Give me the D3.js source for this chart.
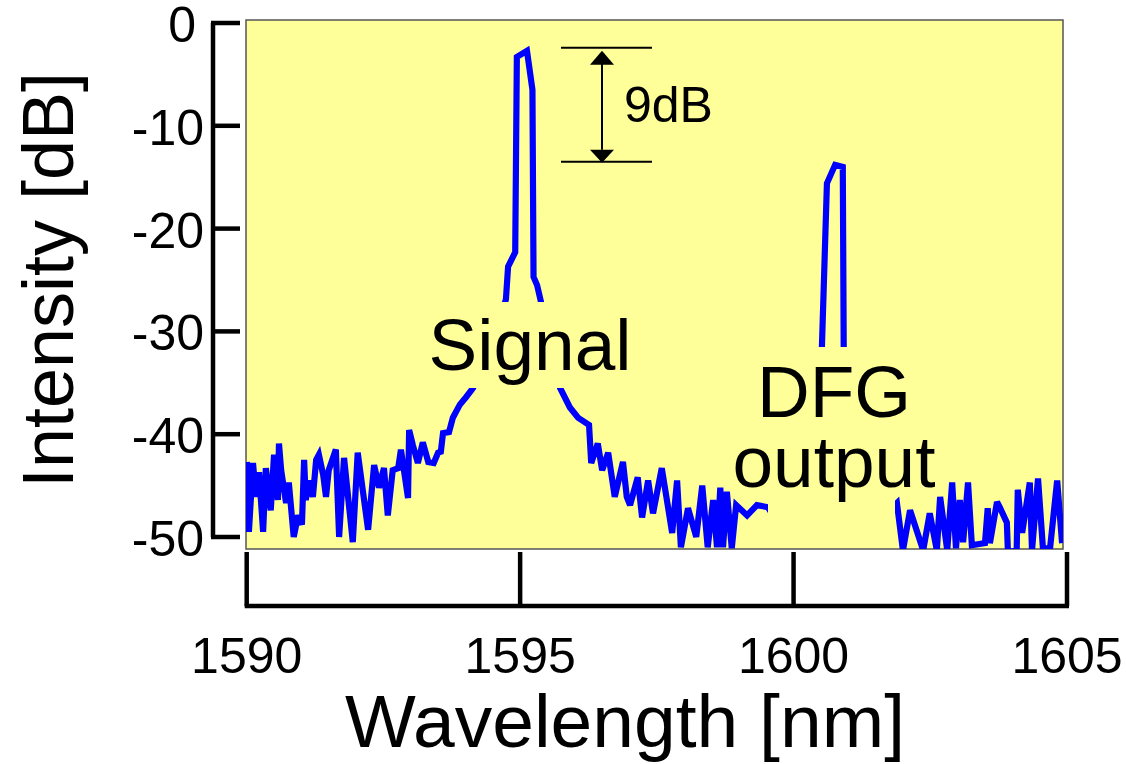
<!DOCTYPE html>
<html><head><meta charset="utf-8">
<script src="https://cdn.jsdelivr.net/npm/d3@7"></script>
<style>body{margin:0;background:#fff}svg{display:block}text{font-family:"Liberation Sans",Arial,sans-serif;fill:#000}</style>
</head><body>
<svg id="c" width="1126" height="764"></svg>
<script>
const wavelength = [1590.005,1590.04,1590.115,1590.17,1590.225,1590.30,1590.35,1590.44,1590.50,1590.57,1590.59,1590.63,1590.72,1590.77,1590.86,1590.94,1591.01,1591.05,1591.08,1591.14,1591.21,1591.27,1591.32,1591.40,1591.45,1591.50,1591.63,1591.69,1591.78,1591.94,1592.03,1592.22,1592.33,1592.42,1592.51,1592.58,1592.67,1592.77,1592.82,1592.95,1592.97,1593.04,1593.13,1593.22,1593.32,1593.42,1593.50,1593.55,1593.59,1593.70,1593.77,1593.90,1594.01,1594.14,1594.45,1594.74,1594.78,1594.91,1594.94,1595.125,1595.225,1595.245,1595.31,1595.38,1595.55,1595.73,1595.91,1596.06,1596.26,1596.30,1596.42,1596.50,1596.61,1596.73,1596.88,1596.95,1597.01,1597.15,1597.23,1597.34,1597.43,1597.59,1597.78,1597.87,1597.94,1598.07,1598.22,1598.33,1598.43,1598.53,1598.60,1598.66,1598.71,1598.78,1598.87,1598.95,1599.15,1599.33,1599.53,1599.93,1600.39,1600.50,1600.61,1600.76,1600.90,1600.92,1601.22,1601.58,1601.89,1602.00,1602.13,1602.37,1602.49,1602.62,1602.68,1602.81,1602.90,1602.97,1603.04,1603.10,1603.19,1603.26,1603.50,1603.55,1603.59,1603.72,1603.77,1603.90,1603.92,1604.08,1604.10,1604.18,1604.32,1604.36,1604.47,1604.56,1604.69,1604.82,1604.91];
const intensity = [-42.7,-49.5,-42.8,-46.1,-43.7,-49.5,-43.3,-47.4,-42.0,-46.4,-40.9,-43.5,-46.7,-44.7,-50.0,-47.9,-48.8,-42.5,-46.4,-44.5,-46.1,-42.5,-42.0,-44.0,-46.1,-43.5,-41.5,-50.0,-42.3,-50.5,-41.8,-49.3,-43.0,-45.2,-43.3,-47.9,-43.5,-43.3,-41.5,-46.2,-39.6,-41.1,-42.8,-40.8,-42.7,-42.8,-41.8,-41.7,-39.9,-39.8,-38.4,-37.1,-36.4,-35.5,-31.8,-26.9,-23.7,-22.3,-3.3,-2.7,-6.5,-24.7,-25.5,-27.1,-31.3,-35.5,-37.4,-38.4,-39.1,-42.8,-40.9,-43.5,-41.8,-46.1,-42.7,-46.1,-46.9,-44.2,-48.1,-44.5,-47.7,-43.3,-49.6,-44.5,-51.0,-47.2,-50.0,-45.0,-51.0,-46.4,-51.0,-45.2,-51.0,-45.6,-51.1,-46.9,-47.9,-46.9,-47.1,-50.3,-48.3,-34.7,-15.6,-13.8,-14.0,-34.7,-49.3,-48.3,-46.7,-51.3,-47.4,-51.3,-47.7,-51.3,-46.1,-51.3,-44.7,-51.1,-46.4,-50.5,-44.7,-50.8,-50.6,-47.2,-50.6,-46.6,-47.1,-48.6,-51.5,-51.3,-45.4,-49.6,-44.7,-51.3,-44.3,-51.1,-51.1,-44.5,-50.6];
const xTicks = [1590, 1595, 1600, 1605];
const yTicks = [0, -10, -20, -30, -40, -50];
const xTitle = "Wavelength [nm]";
const yTitle = "Intensity [dB]";
const annot = {top: -2.4, bottom: -13.5, label: "9dB"};

const svg = d3.select("#c");
const x = d3.scaleLinear().domain([1590, 1605]).range([246.7, 1067]);
const y = d3.scaleLinear().domain([0, -50]).range([23, 537]);
const plot = {x0: 246, x1: 1063, y0: 20, y1: 549};

svg.append("defs").append("clipPath").attr("id","clip").append("rect")
  .attr("x", plot.x0).attr("y", plot.y0).attr("width", plot.x1-plot.x0).attr("height", plot.y1-plot.y0);

svg.append("rect").attr("x", plot.x0).attr("y", plot.y0).attr("width", plot.x1-plot.x0).attr("height", plot.y1-plot.y0)
  .attr("fill", "#ffff99").attr("stroke", "#555").attr("stroke-width", 1.5);

const data = wavelength.map((w,i)=>[w, intensity[i]]);
svg.append("path").datum(data).attr("clip-path","url(#clip)")
  .attr("d", d3.line().x(d=>x(d[0])).y(d=>y(d[1])))
  .attr("fill","none").attr("stroke","#0000ff").attr("stroke-width",6.2).attr("stroke-linejoin","miter").attr("stroke-miterlimit",3);

// label boxes (hide line under text)
svg.append("rect").attr("x",428).attr("y",302).attr("width",203).attr("height",86).attr("fill","#ffff99");
svg.append("rect").attr("x",768).attr("y",347).attr("width",127).attr("height",plot.y1-347-1).attr("fill","#ffff99");
svg.append("text").attr("x",530).attr("y",370).attr("text-anchor","middle").attr("font-size",73).text("Signal");
svg.append("text").attr("x",834).attr("y",417).attr("text-anchor","middle").attr("font-size",73).text("DFG");
svg.append("text").attr("x",834).attr("y",487).attr("text-anchor","middle").attr("font-size",73).text("output");

// 9dB annotation
const ay0 = y(annot.top), ay1 = y(annot.bottom);
const g9 = svg.append("g").attr("stroke","#000").attr("stroke-width",2);
g9.append("line").attr("x1",561).attr("x2",652).attr("y1",ay0).attr("y2",ay0);
g9.append("line").attr("x1",561).attr("x2",652).attr("y1",ay1).attr("y2",ay1);
g9.append("line").attr("x1",602).attr("x2",602).attr("y1",ay0+12).attr("y2",ay1-12);
svg.append("path").attr("d",`M602,${ay0+3}L590,${ay0+17}L614,${ay0+17}Z`).attr("fill","#000");
svg.append("path").attr("d",`M602,${ay1+1}L590,${ay1-12}L614,${ay1-12}Z`).attr("fill","#000");
svg.append("text").attr("x",624).attr("y",122).attr("font-size",50).text(annot.label);

// Y axis
const yAx = svg.append("g");
yAx.append("line").attr("x1",213).attr("x2",213).attr("y1",y(0)).attr("y2",y(-50)).attr("stroke","#000").attr("stroke-width",4.5);
yAx.selectAll("line.t").data(yTicks).join("line").attr("class","t")
  .attr("x1",211).attr("x2",240).attr("y1",d=>y(d)).attr("y2",d=>y(d)).attr("stroke","#000").attr("stroke-width",4.5);
yAx.selectAll("text").data(yTicks).join("text")
  .attr("x",d=>d===0?196:204).attr("y",d=>y(d)+19).attr("text-anchor","end").attr("font-size",50).text(d=>d);

// X axis
const xAx = svg.append("g");
xAx.append("line").attr("x1",x(1590)-2).attr("x2",x(1605)+2).attr("y1",606).attr("y2",606).attr("stroke","#000").attr("stroke-width",4.5);
xAx.selectAll("line.t").data(xTicks).join("line").attr("class","t")
  .attr("x1",d=>x(d)).attr("x2",d=>x(d)).attr("y1",552).attr("y2",606).attr("stroke","#000").attr("stroke-width",4.5);
xAx.selectAll("text").data(xTicks).join("text")
  .attr("x",d=>x(d)).attr("y",673).attr("text-anchor","middle").attr("font-size",50).text(d=>d);

svg.append("text").attr("x",625).attr("y",747).attr("text-anchor","middle").attr("font-size",75).text(xTitle);
svg.append("text").attr("transform","translate(73,280) rotate(-90)").attr("text-anchor","middle").attr("font-size",72).text(yTitle);
</script>
</body></html>
